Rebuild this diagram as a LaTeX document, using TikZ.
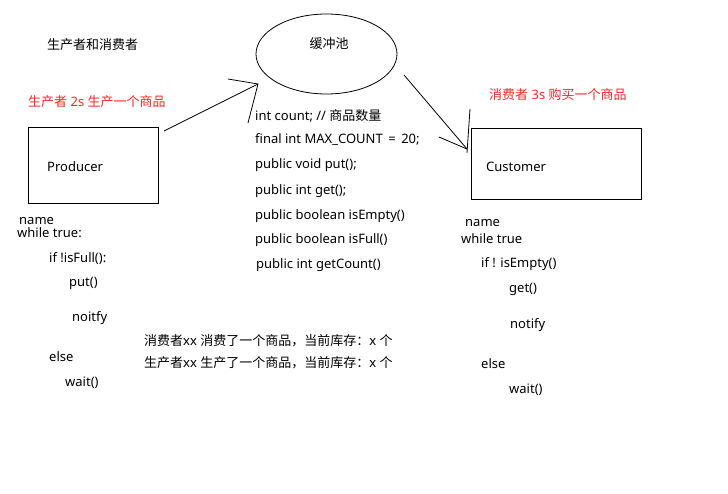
\documentclass[tikz,border=0pt]{standalone}
\usepackage{fontspec}
\setmainfont{Noto Sans}
\newfontfamily\cjk{Noto Sans CJK SC}
\newcommand{\zh}[1]{{\cjk\fontsize{13}{15}\selectfont #1}}
\begin{document}
\begin{tikzpicture}[x=1pt,y=-1pt,
  txt/.style={anchor=west,inner sep=0pt,font=\fontsize{13}{15}\selectfont},
  redtxt/.style={txt,text={rgb,255:red,255;green,40;blue,40}},
  boxstyle/.style={draw,line width=0.9pt},
  stroke/.style={line width=0.8pt}]
\useasboundingbox[fill=white] (0,0) rectangle (728,494);

\node[txt] (title) at (47,45) {\zh{生产者和消费者}};

\draw[stroke] (326.5,54) ellipse [x radius=70.5,y radius=40];
\node[inner sep=0pt] (pool) at (326.5,54) {};
\node[txt,anchor=center] (poolt) at (329,44) {\zh{缓冲池}};

\node[redtxt] (pred) at (28,102) {\zh{生产者} 2s \zh{生产一个商品}};
\node[redtxt] (cred) at (489,95) {\zh{消费者} 3s \zh{购买一个商品}};

\node[boxstyle,minimum width=130,minimum height=76,anchor=north west] (prod) at (28,127) {};
\node[txt] (prodt) at (47,167) {Producer};
\node[boxstyle,minimum width=170,minimum height=71,anchor=north west] (cust) at (471,128) {};
\node[txt] (custt) at (486,167) {Customer};

% arrow producer -> pool
\coordinate (pa) at (164,131);
\coordinate (ptip) at (258,84);
\coordinate (ph1) at (228,79);
\coordinate (ph2) at (248,123);
\draw[stroke] (pa) -- (ptip);
\draw[stroke] (ph1) -- (ptip) -- (ph2);

% arrow pool -> customer
\coordinate (ca) at (404,75);
\coordinate (ctip) at (467,149);
\coordinate (ch1) at (439,137);
\coordinate (ch2) at (470,109);
\coordinate (ch2b) at (467,153);
\draw[stroke] (ca) -- (ctip);
\draw[stroke] (ch1) -- (ctip);
\draw[stroke] (ch2) -- (ch2b);

% middle
\node[txt] (m1) at (255,116) {int count; // \zh{商品数量}};
\node[txt] (m2) at (255,140) {final int MAX\_COUNT \,=\, 20;};
\node[txt] (m3) at (255,165) {public void put();};
\node[txt] (m4) at (255,191) {public int get();};
\node[txt] (m5) at (255,216) {public boolean isEmpty()};
\node[txt] (m6) at (255,240) {public boolean isFull()};
\node[txt] (m7) at (256,265) {public int getCount()};

% left code
\node[txt] (l1) at (19,221) {name};
\node[txt] (l2) at (17,233) {while true:};
\node[txt] (l3) at (49,259) {if !isFull():};
\node[txt] (l4) at (69,283) {put()};
\node[txt] (l5) at (72,318) {noitfy};
\node[txt] (l6) at (49,357) {else};
\node[txt] (l7) at (65,383) {wait()};

% right code
\node[txt] (r1) at (465,223) {name};
\node[txt] (r2) at (461,239) {while true};
\node[txt] (r3) at (481,264) {if ! isEmpty()};
\node[txt] (r4) at (509,289) {get()};
\node[txt] (r5) at (510,325) {notify};
\node[txt] (r6) at (481,364) {else};
\node[txt] (r7) at (509,390) {wait()};

% bottom messages
\node[txt] (b1) at (144,341) {\zh{消费者}xx \zh{消费了一个商品，当前库存：}x \zh{个}};
\node[txt] (b2) at (144,363) {\zh{生产者}xx \zh{生产了一个商品，当前库存：}x \zh{个}};
\end{tikzpicture}
\end{document}
